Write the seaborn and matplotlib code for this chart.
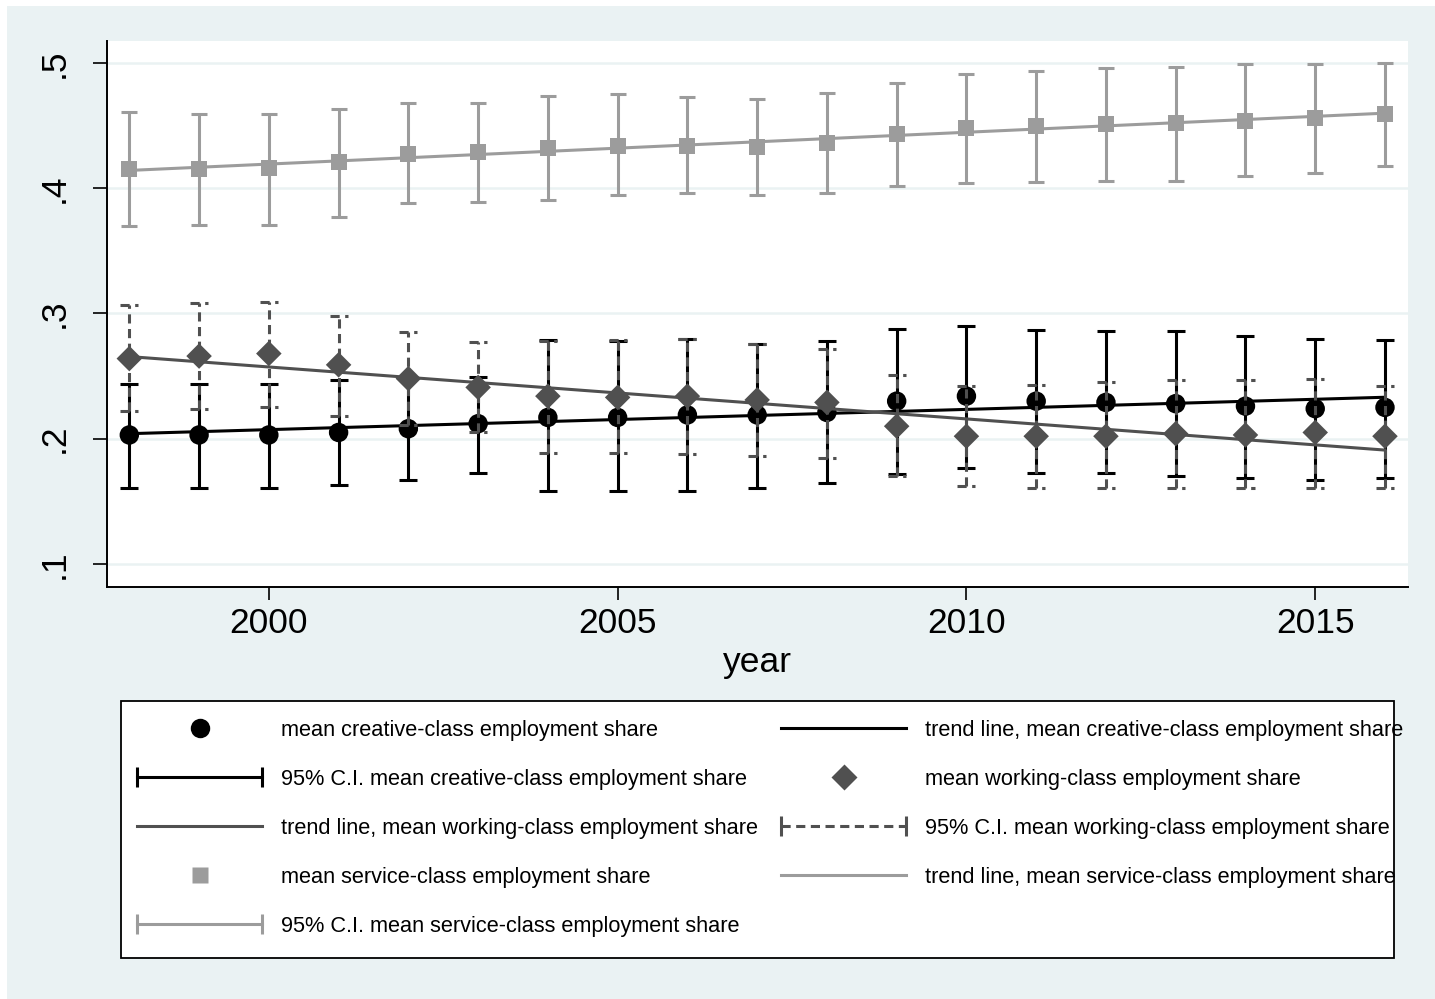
import matplotlib
matplotlib.use("Agg")
import numpy as np
import matplotlib.pyplot as plt
import seaborn as sns
from matplotlib.lines import Line2D
from matplotlib.patches import Rectangle
from matplotlib.legend_handler import HandlerLine2D

# data
years = list(range(1998, 2017))

creative_mean = [0.203, 0.203, 0.203, 0.205, 0.208, 0.212, 0.217, 0.217, 0.219, 0.219,
                 0.221, 0.230, 0.234, 0.230, 0.229, 0.228, 0.226, 0.224, 0.225]
creative_lo = [0.161, 0.161, 0.161, 0.163, 0.167, 0.173, 0.158, 0.158, 0.158, 0.161,
               0.165, 0.172, 0.177, 0.173, 0.173, 0.170, 0.169, 0.167, 0.169]
creative_hi = [0.244, 0.244, 0.244, 0.247, 0.249, 0.249, 0.279, 0.278, 0.280, 0.276,
               0.278, 0.288, 0.290, 0.287, 0.286, 0.286, 0.282, 0.280, 0.279]

working_mean = [0.264, 0.266, 0.268, 0.259, 0.248, 0.241, 0.234, 0.233, 0.234, 0.231,
                0.229, 0.210, 0.202, 0.202, 0.202, 0.204, 0.203, 0.205, 0.202]
working_lo = [0.222, 0.224, 0.225, 0.218, 0.211, 0.205, 0.189, 0.189, 0.188, 0.186,
              0.185, 0.170, 0.162, 0.161, 0.161, 0.161, 0.161, 0.161, 0.161]
working_hi = [0.307, 0.308, 0.309, 0.298, 0.285, 0.277, 0.278, 0.279, 0.280, 0.276,
              0.272, 0.251, 0.242, 0.243, 0.245, 0.247, 0.247, 0.248, 0.242]

service_mean = [0.415, 0.415, 0.416, 0.421, 0.427, 0.429, 0.432, 0.434, 0.434, 0.433,
                0.436, 0.443, 0.448, 0.450, 0.451, 0.452, 0.454, 0.456, 0.459]
service_lo = [0.370, 0.371, 0.371, 0.377, 0.388, 0.389, 0.391, 0.395, 0.396, 0.395,
              0.396, 0.402, 0.404, 0.405, 0.406, 0.406, 0.410, 0.412, 0.418]
service_hi = [0.461, 0.459, 0.459, 0.463, 0.468, 0.468, 0.474, 0.475, 0.473, 0.471,
              0.476, 0.484, 0.491, 0.494, 0.496, 0.497, 0.499, 0.499, 0.500]

xtick_vals = [2000, 2005, 2010, 2015]
ytick_vals = [0.1, 0.2, 0.3, 0.4, 0.5]
ytick_labels = [".1", ".2", ".3", ".4", ".5"]

legend_labels = [
    "mean creative-class employment share",
    "trend line, mean creative-class employment share",
    "95% C.I. mean creative-class employment share",
    "mean working-class employment share",
    "trend line, mean working-class employment share",
    "95% C.I. mean working-class employment share",
    "mean service-class employment share",
    "trend line, mean service-class employment share",
    "95% C.I. mean service-class employment share",
]

BG = "#EAF2F3"
C_CRE = "#000000"
C_WRK = "#505050"
C_SRV = "#9C9C9C"
LW = 2.2

plt.rcParams["font.family"] = ["Liberation Sans", "DejaVu Sans"]

fig = plt.figure(figsize=(14.35, 9.99), dpi=100)
fig.patch.set_facecolor("white")
fig.patches.append(Rectangle((7 / 1435, 0), 1, 1 - 6 / 999, transform=fig.transFigure,
                             facecolor=BG, edgecolor="none", zorder=-10))

ax = fig.add_axes([107 / 1435, 1 - 587 / 999, (1408 - 107) / 1435, (587 - 41) / 999])
ax.set_facecolor("white")

dash = (0, (3.0, 1.8))


def ci(ax, mean, lo, hi, color, z):
    m = np.array(mean)
    ax.errorbar(years, m, yerr=[m - np.array(lo), np.array(hi) - m], fmt="none",
                ecolor=color, elinewidth=LW, capsize=6.8, capthick=LW, zorder=z)


# creative
sns.scatterplot(x=years, y=creative_mean, marker="o", s=14 ** 2, color=C_CRE,
                edgecolor="none", ax=ax, zorder=3)
sns.regplot(x=years, y=creative_mean, scatter=False, ci=None, ax=ax,
            line_kws=dict(color=C_CRE, lw=LW, zorder=4))
ci(ax, creative_mean, creative_lo, creative_hi, C_CRE, 5)

# working
sns.scatterplot(x=years, y=working_mean, marker="D", s=13 ** 2, color=C_WRK,
                edgecolor="none", ax=ax, zorder=6)
sns.regplot(x=years, y=working_mean, scatter=False, ci=None, ax=ax,
            line_kws=dict(color=C_WRK, lw=LW, zorder=7))
ax.vlines(years, working_lo, working_hi, colors=C_WRK, lw=LW, linestyles=dash, zorder=8)
yrs = np.array(years)
ax.hlines(working_lo, yrs - 0.13, yrs + 0.13, colors=C_WRK, lw=LW, linestyles=dash, zorder=8)
ax.hlines(working_hi, yrs - 0.13, yrs + 0.13, colors=C_WRK, lw=LW, linestyles=dash, zorder=8)

# service
sns.scatterplot(x=years, y=service_mean, marker="s", s=11.5 ** 2, color=C_SRV,
                edgecolor="none", ax=ax, zorder=9)
sns.regplot(x=years, y=service_mean, scatter=False, ci=None, ax=ax,
            line_kws=dict(color=C_SRV, lw=LW, zorder=10))
ax.errorbar(years, service_mean,
            yerr=[np.array(service_mean) - np.array(service_lo),
                  np.array(service_hi) - np.array(service_mean)],
            fmt="none", ecolor=C_SRV, elinewidth=LW, capsize=5.5, capthick=LW, zorder=11)

ax.set_xlim(1997.68, 2016.33)
ax.set_ylim(0.0816, 0.5176)
ax.set_xticks(xtick_vals)
ax.set_xticklabels([str(v) for v in xtick_vals], fontsize=25.5)
ax.set_yticks(ytick_vals)
ax.set_yticklabels(ytick_labels, fontsize=25.5, rotation=90, va="center")
ax.tick_params(axis="x", length=9.5, width=1.2, pad=5)
ax.tick_params(axis="y", length=10, width=1.2, pad=16)
ax.set_xlabel("year", fontsize=25.5, labelpad=4)
ax.set_ylabel("")
ax.grid(axis="y", color=BG, lw=1.8, zorder=0)
ax.set_axisbelow(True)
for s in ["top", "right"]:
    ax.spines[s].set_visible(False)
for s in ["left", "bottom"]:
    ax.spines[s].set_linewidth(1.4)
    ax.spines[s].set_color("black")

# legend
handles = [
    Line2D([], [], marker="o", ls="none", color=C_CRE, ms=14, mec="none"),
    Line2D([], [], color=C_CRE, lw=LW),
    Line2D([], [], color=C_CRE, lw=LW, marker="|", ms=14, mew=LW),
    Line2D([], [], marker="D", ls="none", color=C_WRK, ms=13, mec="none"),
    Line2D([], [], color=C_WRK, lw=LW),
    Line2D([], [], color=C_WRK, lw=LW, ls=dash, marker="|", ms=14, mew=LW),
    Line2D([], [], marker="s", ls="none", color=C_SRV, ms=11.5, mec="none"),
    Line2D([], [], color=C_SRV, lw=LW),
    Line2D([], [], color=C_SRV, lw=LW, marker="|", ms=14, mew=LW),
]
order = [0, 2, 4, 6, 8, 1, 3, 5, 7]
hmap = {handles[i]: HandlerLine2D(numpoints=2, marker_pad=0) for i in (2, 5, 8)}

fig.patches.append(Rectangle((121 / 1435, 1 - 958 / 999), (1394 - 121) / 1435, (958 - 701) / 999,
                             transform=fig.transFigure, facecolor="white",
                             edgecolor="black", lw=1.3, zorder=-5))
fig.legend([handles[i] for i in order], [legend_labels[i] for i in order],
           loc="upper left", bbox_to_anchor=(137 / 1435, 1 - 720 / 999), ncol=2,
           frameon=False, fontsize=15.7, handlelength=5.75, handletextpad=0.85,
           columnspacing=1.05, labelspacing=1.28, borderpad=0, borderaxespad=0,
           handler_map=hmap)

fig.savefig("out.png", dpi=100, facecolor=fig.get_facecolor())
